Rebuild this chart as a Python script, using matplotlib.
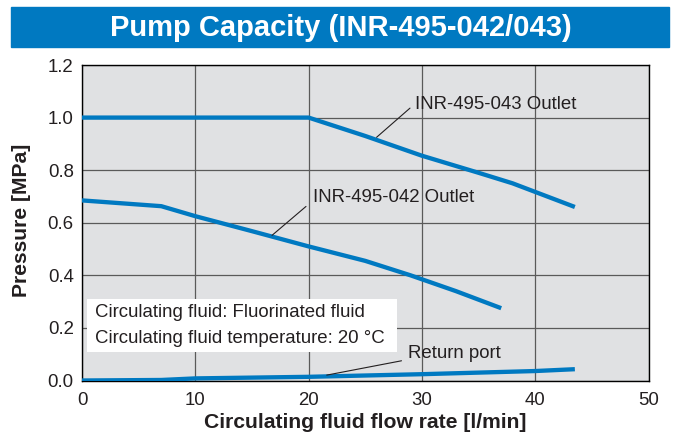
import matplotlib
matplotlib.use("Agg")
import numpy as np
import matplotlib.pyplot as plt
from matplotlib.patches import Rectangle

plt.rcParams['font.family'] = ['Liberation Sans', 'DejaVu Sans']

# flow rate [l/min] vs pressure [MPa]
flow_043 = [0, 7, 20, 25, 30, 35, 38, 43.5]
pres_043 = [1.0, 1.0, 1.0, 0.93, 0.855, 0.79, 0.75, 0.66]

flow_042 = [0, 7, 10, 15, 20, 25, 29, 33, 37]
pres_042 = [0.685, 0.663, 0.625, 0.568, 0.51, 0.455, 0.40, 0.34, 0.275]

flow_ret = [0, 7, 10, 20, 30, 40, 43.5]
pres_ret = [0.0, 0.002, 0.008, 0.014, 0.024, 0.036, 0.043]

x_ticks = [0, 10, 20, 30, 40, 50]
y_ticks = [0.0, 0.2, 0.4, 0.6, 0.8, 1.0, 1.2]

title = "Pump Capacity (INR-495-042/043)"
note_lines = ["Circulating fluid: Fluorinated fluid",
              "Circulating fluid temperature: 20 \u00b0C"]

BLUE = "#0079C1"
TXT = "#231F20"
W, H = 678, 441


def main():
    fig = plt.figure(figsize=(W / 100, H / 100), dpi=100)
    ax = fig.add_axes([82 / W, 1 - 380.5 / H, 566.5 / W, 315.5 / H])
    ax.set_facecolor("#E0E1E3")

    # title banner
    fig.patches.append(Rectangle((10.5 / W, 1 - 46.7 / H), 658.8 / W, 40 / H,
                                 transform=fig.transFigure, color=BLUE, zorder=0))
    fig.text(341 / W, 1 - 36.5 / H, title, color="white", fontsize=21,
             fontweight="bold", ha="center", va="baseline")

    ax.grid(True, color="#5A5A5A", linewidth=0.9)
    ax.set_axisbelow(True)

    ax.plot(flow_043, pres_043, color=BLUE, linewidth=3.1, solid_capstyle="butt", zorder=3)
    ax.plot(flow_042, pres_042, color=BLUE, linewidth=3.1, solid_capstyle="butt", zorder=3)
    ax.plot(flow_ret, pres_ret, color=BLUE, linewidth=3.1, solid_capstyle="butt", zorder=3)

    ax.set_xlim(0, 50)
    ax.set_ylim(0, 1.2)
    ax.set_xticks(x_ticks)
    ax.set_yticks(y_ticks)
    ax.set_yticklabels([f"{v:.1f}" for v in y_ticks])
    ax.tick_params(length=0, labelsize=13.4, labelcolor=TXT)
    ax.tick_params(axis="x", pad=8)
    ax.tick_params(axis="y", pad=6)
    for s in ax.spines.values():
        s.set_color("black")
        s.set_linewidth(1.0)

    # labels with leader lines
    leader = dict(arrowstyle="-", color=TXT, lw=0.8, shrinkA=0, shrinkB=0)
    ax.annotate("", xy=(26.0, 0.925), xytext=(28.95, 1.036), arrowprops=leader)
    ax.text(29.4, 1.049, "INR-495-043 Outlet", fontsize=13.4, color=TXT, va="center")
    ax.annotate("", xy=(16.77, 0.552), xytext=(19.77, 0.662), arrowprops=leader)
    ax.text(20.4, 0.696, "INR-495-042 Outlet", fontsize=13.4, color=TXT, va="center")
    ax.annotate("", xy=(21.6, 0.0205), xytext=(28.2, 0.075), arrowprops=leader)
    ax.text(28.77, 0.104, "Return port", fontsize=13.4, color=TXT, va="center")

    # condition box
    ax.add_patch(Rectangle((0.0088, 0.0913), 0.5472, 0.1657, transform=ax.transAxes,
                           facecolor="white", edgecolor="none", zorder=2))
    ax.text(0.0229, 0.214, note_lines[0], transform=ax.transAxes, fontsize=13.4,
            color=TXT, va="center", zorder=4)
    ax.text(0.0229, 0.1347, note_lines[1], transform=ax.transAxes, fontsize=13.4,
            color=TXT, va="center", zorder=4)

    fig.text(365 / W, 1 - 423 / H, "Circulating fluid flow rate [l/min]",
             fontsize=15.2, fontweight="bold", color=TXT, ha="center", va="center")
    fig.text(22 / W, 1 - 220 / H, "Pressure [MPa]", rotation=90,
             fontsize=15.2, fontweight="bold", color=TXT, ha="center", va="center")

    fig.savefig("out.png", dpi=100)
    plt.close(fig)


if __name__ == "__main__":
    main()
